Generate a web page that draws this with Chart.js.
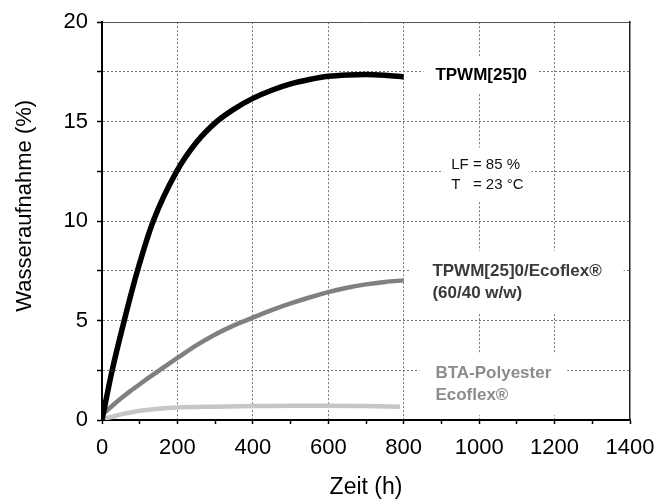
<!DOCTYPE html>
<html>
<head>
<meta charset="utf-8">
<script src="https://cdn.jsdelivr.net/npm/chart.js@4.4.0/dist/chart.umd.min.js"></script>
<style>
  body { margin: 0; background: #fff; }
  canvas { display: block; }
</style>
</head>
<body>
<canvas id="wasserChart" width="661" height="504"></canvas>
<script>
const tpwmHours = [0, 27, 59, 94, 136, 198, 250, 304, 350, 400, 450, 500, 550, 600, 650, 700, 750, 800];
const tpwm = [0, 2.5, 5, 7.5, 10, 12.5, 13.95, 15, 15.63, 16.17, 16.58, 16.9, 17.12, 17.28, 17.35, 17.37, 17.33, 17.25];
const blendHours = [0, 25, 50, 75, 100, 125, 150, 175, 200, 250, 300, 350, 400, 450, 500, 550, 600, 650, 700, 750, 800];
const blend = [0.25, 0.68, 1.08, 1.45, 1.8, 2.14, 2.47, 2.8, 3.12, 3.75, 4.3, 4.76, 5.15, 5.52, 5.86, 6.16, 6.43, 6.65, 6.82, 6.94, 7.02];
const ecoHours = [0, 25, 50, 75, 100, 150, 200, 300, 400, 500, 600, 700, 790];
const ecoflex = [0.05, 0.15, 0.28, 0.38, 0.46, 0.57, 0.63, 0.67, 0.7, 0.72, 0.72, 0.7, 0.66];

const xTicks = [0, 200, 400, 600, 800, 1000, 1200, 1400];
const yTicks = [0, 5, 10, 15, 20];

function pts(xs, ys) {
  return xs.map((x, i) => ({ x: x, y: ys[i] }));
}

// Beschriftungen im Diagramm
const labels = [
  { lines: ["TPWM[25]0"], x: 884, y: 17.35, bold: true, color: "#000", padX: 12, padY: 11 },
  { lines: ["LF = 85 %", "T   = 23 °C"], x: 926, y: 12.85, bold: false, color: "#111", padX: 8, padY: 9, lh: 20 },
  { lines: ["TPWM[25]0/Ecoflex®", "(60/40 w/w)"], x: 876, y: 7.5, bold: true, color: "#3a3a3a", padX: 22, padY: 12 },
  { lines: ["BTA-Polyester", "Ecoflex®"], x: 884, y: 2.35, bold: true, color: "#8c8c8c", padX: 16, padY: 12 }
];

const labelPlugin = {
  id: "labelBoxes",
  beforeDatasetsDraw(chart) {
    const ctx = chart.ctx;
    const xs = chart.scales.x, ys = chart.scales.y;
    labels.forEach(function (l) {
      ctx.save();
      ctx.font = (l.bold ? "bold 17px" : "15px") + " 'Liberation Sans', Arial, sans-serif";
      const lh = l.lh || 22;
      const px = xs.getPixelForValue(l.x);
      const py = ys.getPixelForValue(l.y);
      let w = 0;
      l.lines.forEach(t => { w = Math.max(w, ctx.measureText(t).width); });
      const h = lh * (l.lines.length - 1) + 16;
      ctx.fillStyle = "#fff";
      ctx.fillRect(px - l.padX, py - 8 - l.padY, w + 2 * l.padX, h + 2 * l.padY);
      ctx.fillStyle = l.color;
      ctx.textBaseline = "middle";
      l.lines.forEach((t, i) => ctx.fillText(t, px, py + i * lh));
      ctx.restore();
    });
  }
};

const gridDash = [2, 2];
const font = "'Liberation Sans', Arial, sans-serif";

new Chart(document.getElementById("wasserChart").getContext("2d"), {
  type: "line",
  data: {
    datasets: [
      {
        data: pts(tpwmHours, tpwm),
        borderColor: "#000",
        borderWidth: 5.5,
        pointRadius: 0,
        cubicInterpolationMode: "monotone",
      },
      {
        data: pts(blendHours, blend),
        borderColor: "#808080",
        borderWidth: 4.5,
        pointRadius: 0,
        cubicInterpolationMode: "monotone",
      },
      {
        data: pts(ecoHours, ecoflex),
        borderColor: "#c6c6c6",
        borderWidth: 4.5,
        pointRadius: 0,
        cubicInterpolationMode: "monotone",
      },
    ],
  },
  options: {
    responsive: false,
    animation: false,
    layout: { padding: { top: 20, right: 31, left: 0, bottom: 0 } },
    plugins: {
      legend: { display: false },
      tooltip: { enabled: false },
    },
    scales: {
      x: {
        type: "linear",
        min: 0,
        max: 1400,
        afterFit: s => { s.height = 84; s.paddingLeft = 0; s.paddingRight = 0; },
        ticks: {
          stepSize: 100,
          autoSkip: false,
          maxRotation: 0,
          padding: 11,
          color: "#000",
          font: { family: font, size: 22 },
          callback: v => (xTicks.includes(v) ? v : ""),
        },
        grid: {
          color: c => (c.tick && c.tick.value % 200 === 0 && c.tick.value > 0 && c.tick.value < 1400 ? "#777" : "rgba(0,0,0,0)"),
          tickColor: "#000",
          tickLength: 4,
          tickWidth: 1.5,
        },
        border: { color: "#000", width: 2, dash: gridDash },
        title: {
          display: true,
          text: "Zeit (h)",
          color: "#000",
          font: { family: font, size: 23 },
          padding: { top: 4, bottom: 3 },
        },
      },
      x2: {
        type: "linear",
        position: "top",
        min: 0,
        max: 1400,
        afterFit: s => { s.height = 0; },
        ticks: { display: false },
        grid: { drawOnChartArea: false, drawTicks: false },
        border: { color: "#555", width: 1 },
      },
      y: {
        type: "linear",
        min: 0,
        max: 20,
        afterFit: s => { s.width = 102; },
        ticks: {
          stepSize: 2.5,
          autoSkip: false,
          padding: 9,
          color: "#000",
          font: { family: font, size: 22 },
          callback: v => (yTicks.includes(v) ? v : ""),
        },
        grid: {
          color: c => (c.tick && c.tick.value > 0 && c.tick.value < 20 ? "#777" : "rgba(0,0,0,0)"),
          tickColor: "#000",
          tickLength: 5,
          tickWidth: 1.5,
        },
        border: { color: "#000", width: 2, dash: gridDash },
        title: {
          display: true,
          text: "\u00a0\u00a0\u00a0\u00a0\u00a0Wasseraufnahme (%)",
          color: "#000",
          font: { family: font, size: 22 },
          padding: { top: 12, bottom: 0 },
        },
      },
      y2: {
        type: "linear",
        position: "right",
        min: 0,
        max: 20,
        afterFit: s => { s.width = 0; },
        ticks: { display: false },
        grid: { drawOnChartArea: false, drawTicks: false },
        border: { color: "#222", width: 1.5 },
      },
    },
  },
  plugins: [labelPlugin],
});
</script>
</body>
</html>
